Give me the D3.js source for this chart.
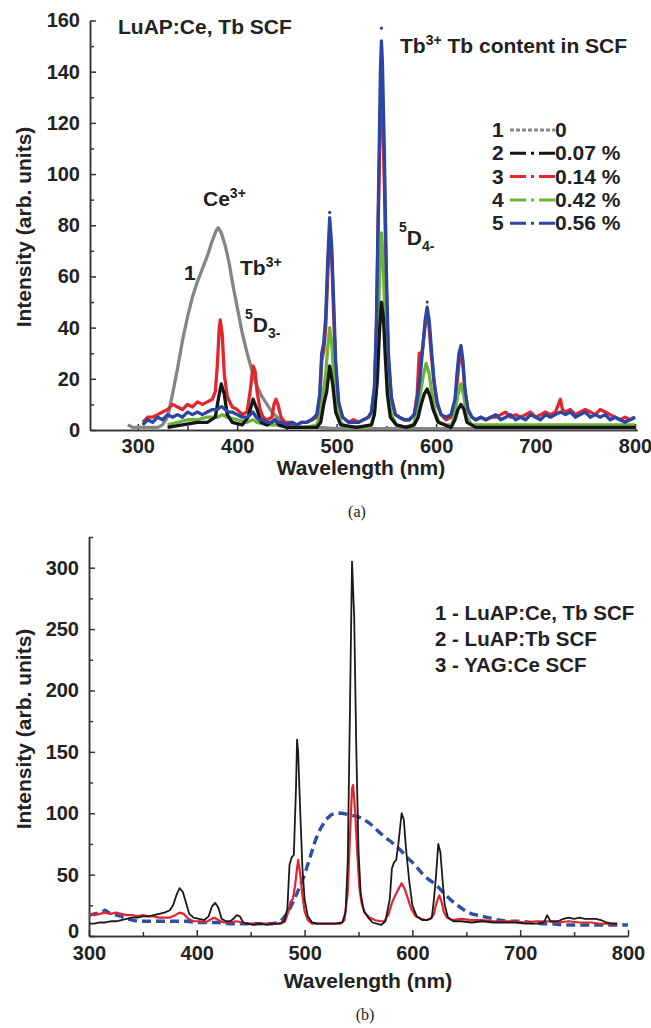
<!DOCTYPE html>
<html>
<head>
<meta charset="utf-8">
<script src="https://cdn.jsdelivr.net/npm/d3@7"></script>
<style>
  body { margin: 0; background: #fff; }
  text { font-family: "Liberation Sans", Arial, sans-serif; font-weight: bold; fill: #222; }
  .axis path, .axis line { stroke: #333; stroke-width: 1.5; }
  .axis text { font-size: 20px; font-family: "Liberation Sans", Arial, sans-serif; font-weight: bold; fill: #222; }
</style>
</head>
<body>
<script>
// ---- panel (a): LuAP:Ce,Tb SCF, [wavelength nm, intensity] ----
var aGray = [[290,2],[295,1],[300,1],[310,1],[320,1],[325,2],[330,5],[335,14],[340,24],[345,35],[350,44],[355,52],[360,58],[365,63],[370,68],[375,74],[379,78],[381,79],[384,77],[388,72],[392,65],[396,56],[400,48],[405,38],[410,30],[415,23],[420,17],[425,13],[430,10],[435,7],[440,5],[445,3],[450,2],[460,1],[480,1],[500,0.5],[600,0.5],[700,0.5],[800,0.5]];
var aBlack = [[330,1],[345,2],[360,3],[370,3],[378,5],[381,12],[384,18],[387,14],[390,6],[395,3],[405,2],[411,5],[416,12],[420,8],[424,3],[430,2],[438,4],[442,2],[450,1],[470,1],[480,1],[484,3],[487,10],[490,15],[493,25],[496,18],[499,7],[504,2],[520,1],[535,2],[538,6],[541,20],[543,38],[545,50],[547,44],[549,28],[551,14],[554,5],[560,2],[570,1],[578,2],[582,5],[585,10],[588,14],[591,16],[594,13],[597,8],[602,3],[615,1],[619,4],[622,8],[625,10],[628,8],[631,3],[640,1],[700,1],[750,1],[800,1]];
var aRed = [[305,3],[310,5],[315,5],[320,6],[325,7],[330,8],[335,10],[340,9],[345,8],[350,10],[355,9],[360,11],[365,10],[370,11],[375,12],[378,15],[380,25],[382,40],[383,43],[385,37],[387,22],[390,13],[395,9],[400,8],[405,6],[410,7],[413,15],[416,25],[418,23],[420,15],[423,8],[426,5],[430,4],[435,5],[437,10],[439,12],[441,10],[444,5],[448,3],[455,3],[460,2],[465,3],[470,3],[475,4],[480,5],[483,12],[485,27],[487,31],[489,40],[491,60],[493,78],[495,68],[497,45],[499,24],[502,10],[506,5],[512,3],[517,4],[522,3],[527,4],[532,5],[535,7],[538,16],[540,40],[542,85],[544,125],[545,135],[546,128],[548,95],[550,55],[552,28],[555,12],[559,6],[563,5],[568,4],[573,4],[578,6],[581,14],[583,30],[585,28],[587,34],[589,41],[591,45],[593,40],[595,30],[598,18],[601,10],[605,6],[610,4],[615,5],[619,10],[621,18],[623,26],[625,30],[627,25],[629,15],[632,8],[636,5],[640,4],[645,5],[650,4],[655,5],[660,5],[665,6],[670,7],[675,5],[680,6],[685,5],[690,6],[695,7],[700,5],[705,6],[710,7],[715,6],[720,7],[723,10],[725,12],[727,8],[730,7],[735,8],[740,6],[745,7],[750,8],[755,7],[760,6],[765,8],[770,7],[775,6],[780,5],[785,4],[790,5],[795,4],[800,5]];
var aGreen = [[330,2],[340,3],[350,4],[360,4],[370,5],[380,5],[385,6],[390,5],[400,4],[410,3],[416,4],[420,3],[430,2],[440,2],[450,1],[460,1],[470,1],[480,2],[483,5],[486,13],[489,22],[491,32],[493,40],[495,34],[497,22],[500,10],[504,3],[510,1],[520,1],[530,1],[535,2],[538,7],[540,20],[542,45],[544,70],[545,77],[546,72],[548,52],[550,30],[552,14],[555,6],[560,2],[568,1],[577,2],[581,7],[584,14],[587,21],[590,26],[593,22],[596,14],[599,7],[603,3],[610,2],[616,2],[619,7],[622,14],[625,18],[628,13],[631,5],[636,2],[645,2],[660,2],[680,2],[700,2],[720,2],[740,2],[760,2],[780,2],[800,2]];
var aBlue = [[305,2],[310,4],[315,3],[320,5],[325,4],[330,6],[335,5],[340,6],[345,5],[350,7],[355,6],[360,7],[365,6],[370,7],[375,8],[380,8],[383,9],[385,9],[388,8],[391,7],[395,7],[400,6],[405,5],[410,5],[413,6],[416,7],[419,5],[422,4],[426,4],[430,3],[435,3],[438,4],[441,3],[445,3],[450,2],[455,3],[460,2],[465,3],[470,3],[475,4],[480,6],[483,14],[485,30],[487,34],[489,44],[491,66],[493,83],[495,72],[497,50],[499,27],[502,11],[506,5],[512,3],[517,3],[522,3],[527,4],[532,5],[535,7],[538,17],[540,42],[542,90],[544,140],[545,152],[546,144],[548,108],[550,62],[552,30],[555,13],[559,6],[563,5],[568,4],[573,4],[578,6],[581,12],[584,21],[587,34],[589,43],[591,48],[593,43],[595,33],[598,19],[601,11],[605,6],[610,5],[615,6],[619,12],[621,22],[623,30],[625,33],[627,27],[629,16],[632,8],[636,5],[640,4],[645,5],[650,4],[655,5],[660,6],[665,4],[670,5],[675,6],[680,4],[685,5],[690,4],[695,6],[700,5],[705,4],[710,6],[715,5],[720,6],[725,7],[730,6],[735,7],[740,5],[745,6],[750,7],[755,5],[760,6],[765,5],[770,6],[775,4],[780,5],[785,4],[790,3],[795,4],[800,5]];
var aBlueTips = [[493,85],[545,157],[591,50]];
var aLegendNums = ["1", "2", "3", "4", "5"];
var aLegendLabels = ["0", "0.07 %", "0.14 %", "0.42 %", "0.56 %"];

// ---- panel (b) ----
var bBlack = [[300,10],[305,10],[310,11],[315,11],[320,12],[325,12],[330,13],[335,14],[340,15],[345,15],[350,16],[355,16],[360,17],[365,18],[370,19],[375,21],[378,25],[381,33],[384,39],[387,36],[390,27],[393,18],[397,15],[402,14],[407,13],[411,16],[414,24],[417,27],[420,23],[423,14],[427,12],[431,12],[434,14],[437,17],[440,16],[443,11],[447,10],[452,9],[458,10],[465,9],[470,10],[476,10],[481,12],[484,22],[486,58],[488,64],[490,66],[492,120],[493,160],[494,150],[496,100],[498,55],[500,30],[503,16],[507,11],[512,10],[520,10],[528,10],[535,11],[538,20],[540,60],[542,180],[544,305],[546,260],[548,150],[550,70],[552,35],[555,20],[559,15],[563,11],[567,10],[571,9],[575,12],[579,30],[581,55],[583,60],[585,62],[587,75],[590,100],[592,95],[594,72],[597,45],[600,25],[604,16],[609,13],[614,13],[618,15],[620,30],[622,50],[624,75],[626,68],[628,45],[630,25],[633,15],[638,12],[645,12],[655,11],[665,12],[675,11],[685,11],[695,11],[705,10],[715,10],[722,11],[725,17],[728,12],[735,12],[740,14],[745,15],[750,14],[755,15],[760,14],[765,14],[770,14],[775,13],[780,11],[785,10],[790,10]];
var bRed = [[300,18],[305,17],[310,18],[315,19],[320,18],[325,19],[330,18],[335,17],[340,17],[345,16],[350,17],[355,16],[360,16],[365,15],[370,15],[375,15],[380,17],[384,19],[388,18],[392,14],[397,12],[402,12],[408,11],[412,13],[416,15],[420,13],[425,11],[430,11],[437,12],[442,11],[448,10],[455,10],[462,10],[470,10],[478,10],[482,12],[485,20],[487,28],[489,30],[491,40],[493,55],[494,62],[496,50],[498,33],[500,20],[503,13],[507,10],[515,10],[525,10],[533,10],[537,13],[540,35],[542,80],[544,120],[545,123],[547,100],[549,65],[551,38],[553,26],[556,19],[560,15],[565,13],[570,12],[574,12],[578,18],[581,27],[584,33],[587,38],[590,43],[593,38],[596,30],[599,22],[603,16],[608,14],[613,13],[617,14],[620,18],[622,26],[624,31],[625,33],[627,28],[629,20],[632,15],[637,13],[645,14],[655,13],[665,13],[675,12],[685,12],[695,12],[705,11],[715,12],[725,12],[735,11],[745,12],[755,11],[765,11],[775,10],[785,10],[790,10]];
var bBlue = [[300,17],[305,18],[310,19],[315,21],[320,18],[325,17],[330,16],[335,14],[340,13],[345,12],[350,12],[360,12],[370,12],[380,12],[390,12],[400,11],[410,11],[420,11],[430,10],[440,10],[450,10],[460,10],[470,10],[476,11],[480,14],[485,20],[490,29],[495,39],[500,50],[505,64],[510,78],[515,88],[520,95],[525,99],[530,100],[535,100],[540,99],[545,98],[550,97],[555,95],[560,92],[565,88],[570,84],[575,80],[580,77],[585,73],[590,69],[595,64],[600,60],[605,55],[610,50],[615,46],[620,43],[625,39],[630,34],[635,30],[640,26],[645,23],[650,20],[655,18],[660,17],[665,16],[670,15],[680,13],[690,12],[700,12],[710,11],[720,10],[730,10],[740,9],[750,9],[760,9],[770,9],[780,9],[790,9],[800,9]];
var bLegend = ["1 - LuAP:Ce, Tb SCF", "2 - LuAP:Tb SCF", "3 - YAG:Ce SCF"];

var w = 651, h = 1028;
var svg = d3.select("body").append("svg").attr("width", w).attr("height", h);
svg.append("rect").attr("width", w).attr("height", h).attr("fill", "#fff");

function drawAxes(x, y, xMajor, xMinor, yMajor, yMinor, x0, y0, xPad) {
    svg.append("g").attr("class", "axis")
        .attr("transform", "translate(0," + y0 + ")")
        .call(d3.axisBottom(x).tickValues(xMinor).tickSize(-4).tickSizeOuter(0).tickFormat(""));
    svg.append("g").attr("class", "axis")
        .attr("transform", "translate(0," + y0 + ")")
        .call(d3.axisBottom(x).tickValues(xMajor).tickSize(-6).tickSizeOuter(0).tickPadding(xPad).tickFormat(d3.format("d")));
    svg.append("g").attr("class", "axis")
        .attr("transform", "translate(" + x0 + ",0)")
        .call(d3.axisLeft(y).tickValues(yMinor).tickSize(-4).tickSizeOuter(0).tickFormat(""));
    return svg.append("g").attr("class", "axis")
        .attr("transform", "translate(" + x0 + ",0)")
        .call(d3.axisLeft(y).tickValues(yMajor).tickSize(-6).tickSizeOuter(0).tickPadding(10).tickFormat(d3.format("d")));
}

// ================= panel (a) =================
var xA = d3.scaleLinear().domain([252, 802]).range([90, 637]);
var yA = d3.scaleLinear().domain([0, 160]).range([430, 20.5]);

drawAxes(xA, yA, d3.range(300, 801, 100), d3.range(350, 751, 100),
    d3.range(0, 161, 20), d3.range(10, 151, 20), 90, 430, 9);

var lineA = d3.line().x(d => xA(d[0])).y(d => yA(d[1]));
var aSeries = [
    { data: aGray, color: "#858585" },
    { data: aRed, color: "#e3262b" },
    { data: aGreen, color: "#6cb33a" },
    { data: aBlack, color: "#151515" },
    { data: aBlue, color: "#2b45a3" }
];
aSeries.forEach(s => {
    svg.append("path").datum(s.data)
        .attr("fill", "none").attr("stroke", s.color)
        .attr("stroke-width", 3.3).attr("stroke-linejoin", "round")
        .attr("d", lineA);
});
svg.selectAll(".tip").data(aBlueTips).enter().append("circle")
    .attr("cx", d => xA(d[0])).attr("cy", d => yA(d[1])).attr("r", 1.6).attr("fill", "#2b45a3");

// annotations
svg.append("text").attr("x", 118).attr("y", 34).style("font-size", "21px").text("LuAP:Ce, Tb SCF");
var t1 = svg.append("text").attr("x", 400).attr("y", 53).style("font-size", "21px");
t1.append("tspan").text("Tb");
t1.append("tspan").attr("dy", -8).style("font-size", "14px").text("3+");
t1.append("tspan").attr("dy", 8).text(" Tb content in SCF");

var t2 = svg.append("text").attr("x", 203).attr("y", 206).style("font-size", "21px");
t2.append("tspan").text("Ce");
t2.append("tspan").attr("dy", -8).style("font-size", "14px").text("3+");
svg.append("text").attr("x", 184).attr("y", 280).style("font-size", "21px").text("1");
var t3 = svg.append("text").attr("x", 240).attr("y", 275).style("font-size", "21px");
t3.append("tspan").text("Tb");
t3.append("tspan").attr("dy", -8).style("font-size", "14px").text("3+");

function levelLabel(x, y, sub) {
    var t = svg.append("text").attr("x", x).attr("y", y).style("font-size", "21px");
    t.append("tspan").attr("dy", -13).style("font-size", "14px").text("5");
    t.append("tspan").attr("dy", 13).text("D");
    t.append("tspan").attr("dy", 6).style("font-size", "14px").text(sub);
}
levelLabel(245, 332, "3-");
levelLabel(399, 245, "4-");

// legend (a)
var legA = [
    { color: "#8a8a8a", dash: "4,2" },
    { color: "#151515", dash: "16,5,3,5,16" },
    { color: "#e3262b", dash: "16,5,3,5,16" },
    { color: "#6cb33a", dash: "16,5,3,5,16" },
    { color: "#2b45a3", dash: "16,5,3,5,16" }
];
legA.forEach((l, i) => {
    var yb = 137 + i * 23.3;
    svg.append("text").attr("x", 492).attr("y", yb).style("font-size", "21px").text(aLegendNums[i]);
    svg.append("line").attr("x1", 510).attr("x2", 555).attr("y1", yb - 7).attr("y2", yb - 7)
        .attr("stroke", l.color).attr("stroke-width", 3).attr("stroke-dasharray", l.dash);
    svg.append("text").attr("x", 555).attr("y", yb).style("font-size", "21px").text(aLegendLabels[i]);
});

svg.append("text").attr("x", 361).attr("y", 475).attr("text-anchor", "middle").style("font-size", "21px").text("Wavelength (nm)");
svg.append("text").attr("transform", "translate(31,227) rotate(-90)").attr("text-anchor", "middle").style("font-size", "21px").text("Intensity (arb. units)");
svg.append("text").attr("x", 357).attr("y", 517).attr("text-anchor", "middle")
    .style("font-family", "Liberation Serif, Times New Roman, serif").style("font-weight", "normal").style("font-size", "16px").text("(a)");

// ================= panel (b) =================
var xB = d3.scaleLinear().domain([300, 800]).range([89, 628]);
var yB = d3.scaleLinear().domain([0, 325]).range([936, 537]);

var yAxisB = drawAxes(xB, yB, d3.range(300, 801, 100), d3.range(350, 751, 100),
    d3.range(0, 301, 50), d3.range(25, 326, 50), 89, 936, 10);
// the "0" sits a little higher so it clears the "300" below it
yAxisB.selectAll(".tick text").filter(d => d === 0).attr("dy", "0.05em");

var lineB = d3.line().x(d => xB(d[0])).y(d => yB(d[1]));
svg.append("path").datum(bBlue).attr("fill", "none").attr("stroke", "#2f4fa2")
    .attr("stroke-width", 3.4).attr("stroke-dasharray", "9,5").attr("d", lineB);
svg.append("path").datum(bRed).attr("fill", "none").attr("stroke", "#e1252f")
    .attr("stroke-width", 2.2).attr("stroke-linejoin", "round").attr("d", lineB);
svg.append("path").datum(bBlack).attr("fill", "none").attr("stroke", "#1a1a1a")
    .attr("stroke-width", 1.8).attr("stroke-linejoin", "round").attr("d", lineB);

bLegend.forEach((s, i) => {
    svg.append("text").attr("x", 435).attr("y", 620 + i * 26).style("font-size", "20.5px").text(s);
});

svg.append("text").attr("x", 368).attr("y", 988).attr("text-anchor", "middle").style("font-size", "21px").text("Wavelength (nm)");
svg.append("text").attr("transform", "translate(31,729) rotate(-90)").attr("text-anchor", "middle").style("font-size", "21px").text("Intensity (arb. units)");
svg.append("text").attr("x", 365).attr("y", 1020).attr("text-anchor", "middle")
    .style("font-family", "Liberation Serif, Times New Roman, serif").style("font-weight", "normal").style("font-size", "16px").text("(b)");
</script>
</body>
</html>
